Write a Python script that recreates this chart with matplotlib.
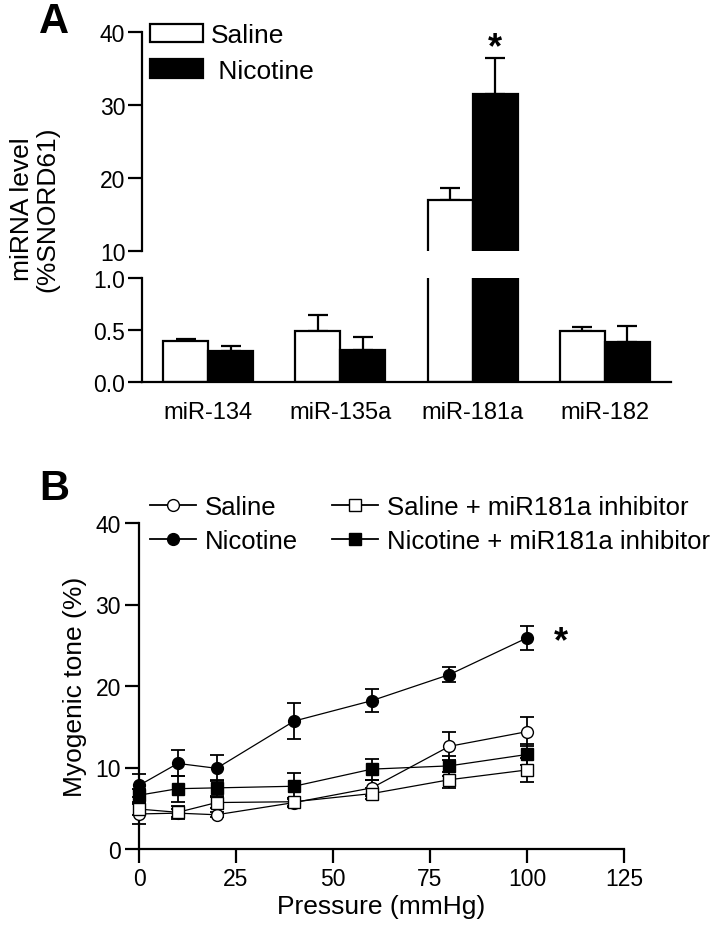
import matplotlib
matplotlib.use("Agg")
import matplotlib.pyplot as plt
from matplotlib.patches import Patch
from matplotlib.lines import Line2D
import numpy as np

plt.rcParams['font.family'] = ['Liberation Sans', 'DejaVu Sans']

# ---------------- Data: panel A ----------------
mirnas = ["miR-134", "miR-135a", "miR-181a", "miR-182"]
saline_level = [0.39, 0.49, 17.0, 0.49]
saline_se = [0.02, 0.155, 1.6, 0.04]
nicotine_level = [0.30, 0.31, 31.5, 0.38]
nicotine_se = [0.045, 0.12, 4.9, 0.157]

# ---------------- Data: panel B ----------------
pressure = [0, 10, 20, 40, 60, 80, 100]
tone_saline = [4.3, 4.4, 4.2, 5.7, 7.5, 12.6, 14.4]
tone_saline_se = [1.2, 0.5, 0.3, 0.5, 1.0, 1.7, 1.8]
tone_nicotine = [7.8, 10.5, 9.9, 15.7, 18.2, 21.4, 25.9]
tone_nicotine_se = [1.4, 1.6, 1.6, 2.2, 1.4, 0.9, 1.5]
tone_sal_inh = [4.9, 4.5, 5.7, 5.8, 6.8, 8.5, 9.7]
tone_sal_inh_se = [0.7, 0.8, 0.7, 0.5, 0.7, 1.0, 1.5]
tone_nic_inh = [6.6, 7.4, 7.5, 7.7, 9.8, 10.2, 11.6]
tone_nic_inh_se = [0.8, 1.6, 1.0, 1.6, 1.3, 1.2, 1.3]

W, H = 723, 928
fig = plt.figure(figsize=(W / 100, H / 100), dpi=100)

def rect(x0, y0, x1, y1):
    return [x0 / W, 1 - y1 / H, (x1 - x0) / W, (y1 - y0) / H]

LW = 1.6
TICK_FS = 16.5
bw = 0.34
xpos = np.arange(len(mirnas))

axT = fig.add_axes(rect(142, 33, 671, 252))
axB = fig.add_axes(rect(142, 279, 671, 383))

for ax in (axT, axB):
    ax.bar(xpos - bw / 2, saline_level, bw, color='white', edgecolor='black',
           linewidth=LW, zorder=2)
    ax.bar(xpos + bw / 2, nicotine_level, bw, color='black', edgecolor='black',
           linewidth=LW, zorder=2)
    ax.errorbar(xpos - bw / 2, saline_level, yerr=[np.zeros(4), saline_se],
                fmt='none', ecolor='black', elinewidth=LW, capsize=7,
                capthick=LW, zorder=1)
    ax.errorbar(xpos + bw / 2, nicotine_level, yerr=[np.zeros(4), nicotine_se],
                fmt='none', ecolor='black', elinewidth=LW, capsize=7,
                capthick=LW, zorder=1)
    ax.set_xlim(-0.5, 3.5)
    for s in ('top', 'right'):
        ax.spines[s].set_visible(False)
    for s in ('left', 'bottom'):
        ax.spines[s].set_linewidth(LW)
    ax.tick_params(axis='y', length=10, width=LW, labelsize=TICK_FS, pad=2)

axT.set_ylim(10, 40)
axT.set_yticks([10, 20, 30, 40])
axT.spines['bottom'].set_visible(False)
axT.set_xticks([])

axB.set_ylim(0, 1.0)
axB.set_yticks([0.0, 0.5, 1.0])
axB.set_yticklabels(["0.0", "0.5", "1.0"])
axB.set_xticks(xpos)
axB.set_xticklabels(mirnas)
axB.tick_params(axis='x', length=0, labelsize=TICK_FS + 0.5, pad=14)

axT.text(xpos[2] + bw / 2, nicotine_level[2] + nicotine_se[2] + 1.4, "*",
         ha='center', va='center', fontsize=26, fontweight='bold')

fig.text(22 / W, 1 - 209 / H, "miRNA level", rotation=90, ha='center',
         va='center', fontsize=19)
fig.text(47 / W, 1 - 209 / H, "(%SNORD61)", rotation=90, ha='center',
         va='center', fontsize=19)

fig.text(54 / W, 1 - 33 / H, "A", ha='center', va='baseline', fontsize=30,
         fontweight='bold')
fig.text(54 / W, 1 - 500 / H, "B", ha='center', va='baseline', fontsize=30,
         fontweight='bold')

legA = [Patch(facecolor='white', edgecolor='black', linewidth=LW, label='Saline'),
        Patch(facecolor='black', edgecolor='black', linewidth=LW, label=' Nicotine')]
fig.legend(handles=legA, loc='upper left', bbox_to_anchor=(150 / W, 1 - 24 / H),
           frameon=False, fontsize=19, handlelength=2.0, handleheight=0.7,
           handletextpad=0.3, labelspacing=0.45, borderaxespad=0, borderpad=0)

# ---------------- Panel B ----------------
axC = fig.add_axes(rect(139, 524, 624, 850))
MS = 8.5
series = [
    (tone_saline, tone_saline_se, 'o', 'white', 'Saline'),
    (tone_nicotine, tone_nicotine_se, 'o', 'black', 'Nicotine'),
    (tone_sal_inh, tone_sal_inh_se, 's', 'white', 'Saline + miR181a inhibitor'),
    (tone_nic_inh, tone_nic_inh_se, 's', 'black', 'Nicotine + miR181a inhibitor'),
]
handles = []
for vals, se, mk, fc, lab in series:
    axC.errorbar(pressure, vals, yerr=se, fmt='-', marker=mk, color='black',
                 mfc=fc, mec='black', ms=MS, lw=0.9, elinewidth=1.3,
                 capsize=5, capthick=1.3, clip_on=False, zorder=3)
    handles.append(Line2D([], [], color='black', lw=1.3, marker=mk, mfc=fc,
                          mec='black', ms=MS, label=lab))

axC.set_xlim(0, 125)
axC.set_ylim(0, 40)
axC.set_xticks([0, 25, 50, 75, 100, 125])
axC.set_yticks([0, 10, 20, 30, 40])
for s in ('top', 'right'):
    axC.spines[s].set_visible(False)
for s in ('left', 'bottom'):
    axC.spines[s].set_linewidth(LW)
axC.tick_params(length=10, width=LW, labelsize=TICK_FS, pad=3)
axC.set_xlabel("Pressure (mmHg)", fontsize=19, labelpad=3)
axC.set_ylabel("Myogenic tone (%)", fontsize=19, labelpad=6)
axC.text(107, tone_nicotine[-1] - 0.4, "*", ha='left', va='center', fontsize=26,
         fontweight='bold')

fig.legend(handles=handles, loc='upper left', ncol=2,
           bbox_to_anchor=(150 / W, 1 - 496 / H), frameon=False, fontsize=18.5,
           handlelength=1.8, handletextpad=0.35, columnspacing=1.3,
           labelspacing=0.4, borderaxespad=0, borderpad=0)

fig.savefig("out.png", dpi=100)
